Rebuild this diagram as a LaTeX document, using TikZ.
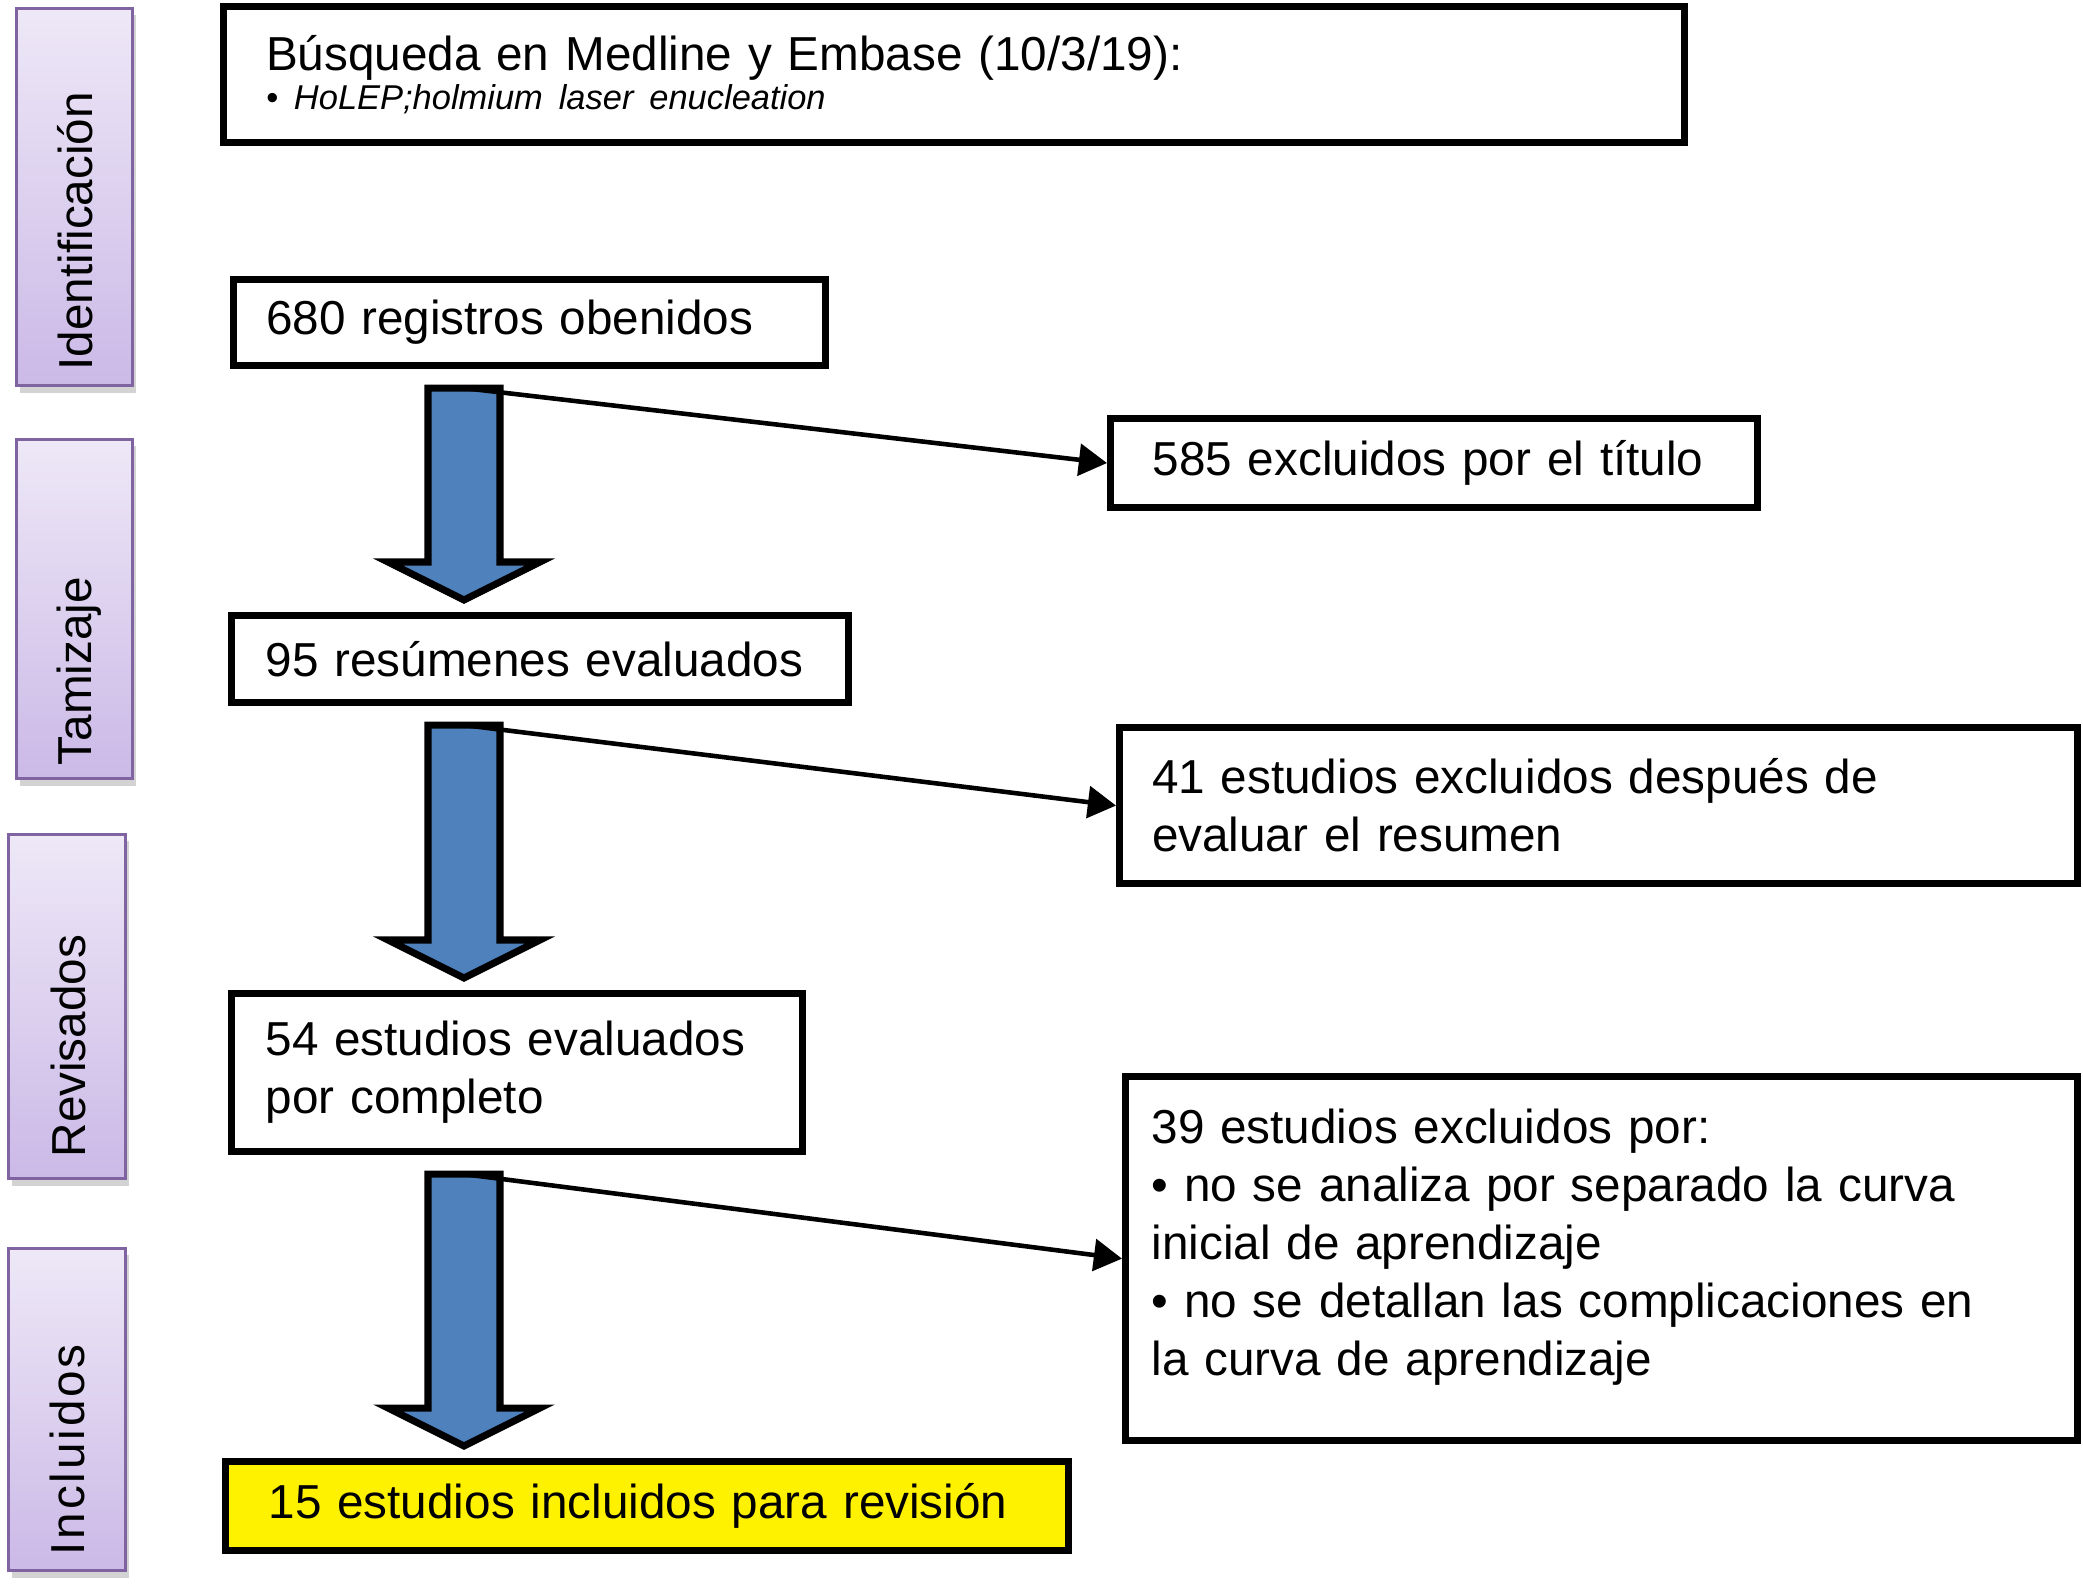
\documentclass[tikz,border=0pt]{standalone}
\usepackage{fontspec}
\setmainfont{Liberation Sans}
\newfontfamily\subfont[WordSpace=0.7]{Liberation Sans}
\usetikzlibrary{arrows.meta,calc,shadows}

\definecolor{arrowblue}{RGB}{79,129,189}
\definecolor{stagetop}{RGB}{238,232,247}
\definecolor{stagebot}{RGB}{203,185,231}
\definecolor{stageline}{RGB}{128,100,162}
\newcommand{\mainsize}{\fontsize{13.55}{16.5}\selectfont}

\begin{document}
\begin{tikzpicture}[x=0.01cm,y=-0.01cm,
  box/.style={draw, line width=2pt, anchor=north west, align=left, inner sep=0pt, font=\mainsize},
  stage/.style={draw=stageline, line width=0.8pt, top color=stagetop, bottom color=stagebot,
    anchor=north west, inner sep=0pt, drop shadow={shadow xshift=1pt, shadow yshift=-2pt, opacity=0.35}},
  stagetext/.style={rotate=90, anchor=base west, inner sep=0pt, font=\mainsize},
  bigarrow/.style={draw, line width=2pt, fill=arrowblue, line join=miter},
  thin/.style={line width=1.3pt, -{Triangle[length=8pt,width=9pt]}}]
\useasboundingbox (0,0) rectangle (2083,1585);

% stages on the left
\node[stage, minimum width=1.16cm, minimum height=3.77cm] (sid) at (15,7) {};
\node[stage, minimum width=1.16cm, minimum height=3.39cm] (stam) at (15,438) {};
\node[stage, minimum width=1.17cm, minimum height=3.44cm] (srev) at (7,833) {};
\node[stage, minimum width=1.17cm, minimum height=3.22cm] (sinc) at (7,1247) {};
\node[stagetext] (tid) at ($(sid.south)+(18,-16)$) {Identificación};
\node[stagetext] (ttam) at ($(stam.south)+(17,-14)$) {Tamizaje};
\node[stagetext] (trev) at ($(srev.south)+(19,-22)$) {Revisados};
\node[stagetext] (tinc) at ($(sinc.south)+(18,-16)$) {\addfontfeature{LetterSpace=6}Incluidos};

% boxes
\node[box, minimum width=14.6cm, minimum height=1.36cm, text width=13.75cm] (busq) at (220,3)
  {Búsqueda en Medline y Embase (10/3/19):\\[-5.5pt]\mbox{\subfont\fontsize{9.8}{11}\selectfont\itshape • HoLEP;holmium laser enucleation}};
\node[box, minimum width=5.92cm, minimum height=0.86cm, text width=5.27cm] (reg) at (230,276) {680 registros obenidos};
\node[box, minimum width=6.47cm, minimum height=0.89cm, text width=5.63cm] (ex1) at (1107,415) {585 excluidos por el título};
\node[box, minimum width=6.17cm, minimum height=0.87cm, text width=5.49cm] (res) at (228,612) {95 resúmenes evaluados};
\node[box, minimum width=9.57cm, minimum height=1.56cm, text width=8.92cm] (ex2) at (1116,724)
  {41 estudios excluidos después de\\evaluar el resumen};
\node[box, minimum width=5.71cm, minimum height=1.58cm, text width=5.03cm] (est) at (228,990)
  {54 estudios evaluados\\por completo};
\node[box, minimum width=9.51cm, minimum height=3.64cm, text width=8.99cm] (ex3) at (1122,1073)
  {39 estudios excluidos por:\\• no se analiza por separado la curva\\inicial de aprendizaje\\• no se detallan las complicaciones en\\la curva de aprendizaje\rule[-0.32cm]{0pt}{0.32cm}};
\node[box, fill=yellow, minimum width=8.42cm, minimum height=0.89cm, text width=7.56cm] (inc) at (222,1458)
  {15 estudios incluidos para revisión};

% arrows
\coordinate (col) at (464,0);
\foreach \src/\dst/\exc in {reg/res/ex1, res/est/ex2, est/inc/ex3} {
  \coordinate (top) at ($(col |- \src.south)+(0,19)$);
  \coordinate (tip) at ($(col |- \dst.north)+(0,-12)$);
  \draw[bigarrow] ($(top)+(-36,0)$) -- ($(top)+(36,0)$) -- ($(tip)+(36,-38)$) -- ($(tip)+(76,-38)$)
    -- (tip) -- ($(tip)+(-76,-38)$) -- ($(tip)+(-36,-38)$) -- cycle;
  \draw[thin] (top) -- (\exc.west);
}
\end{tikzpicture}
\end{document}
